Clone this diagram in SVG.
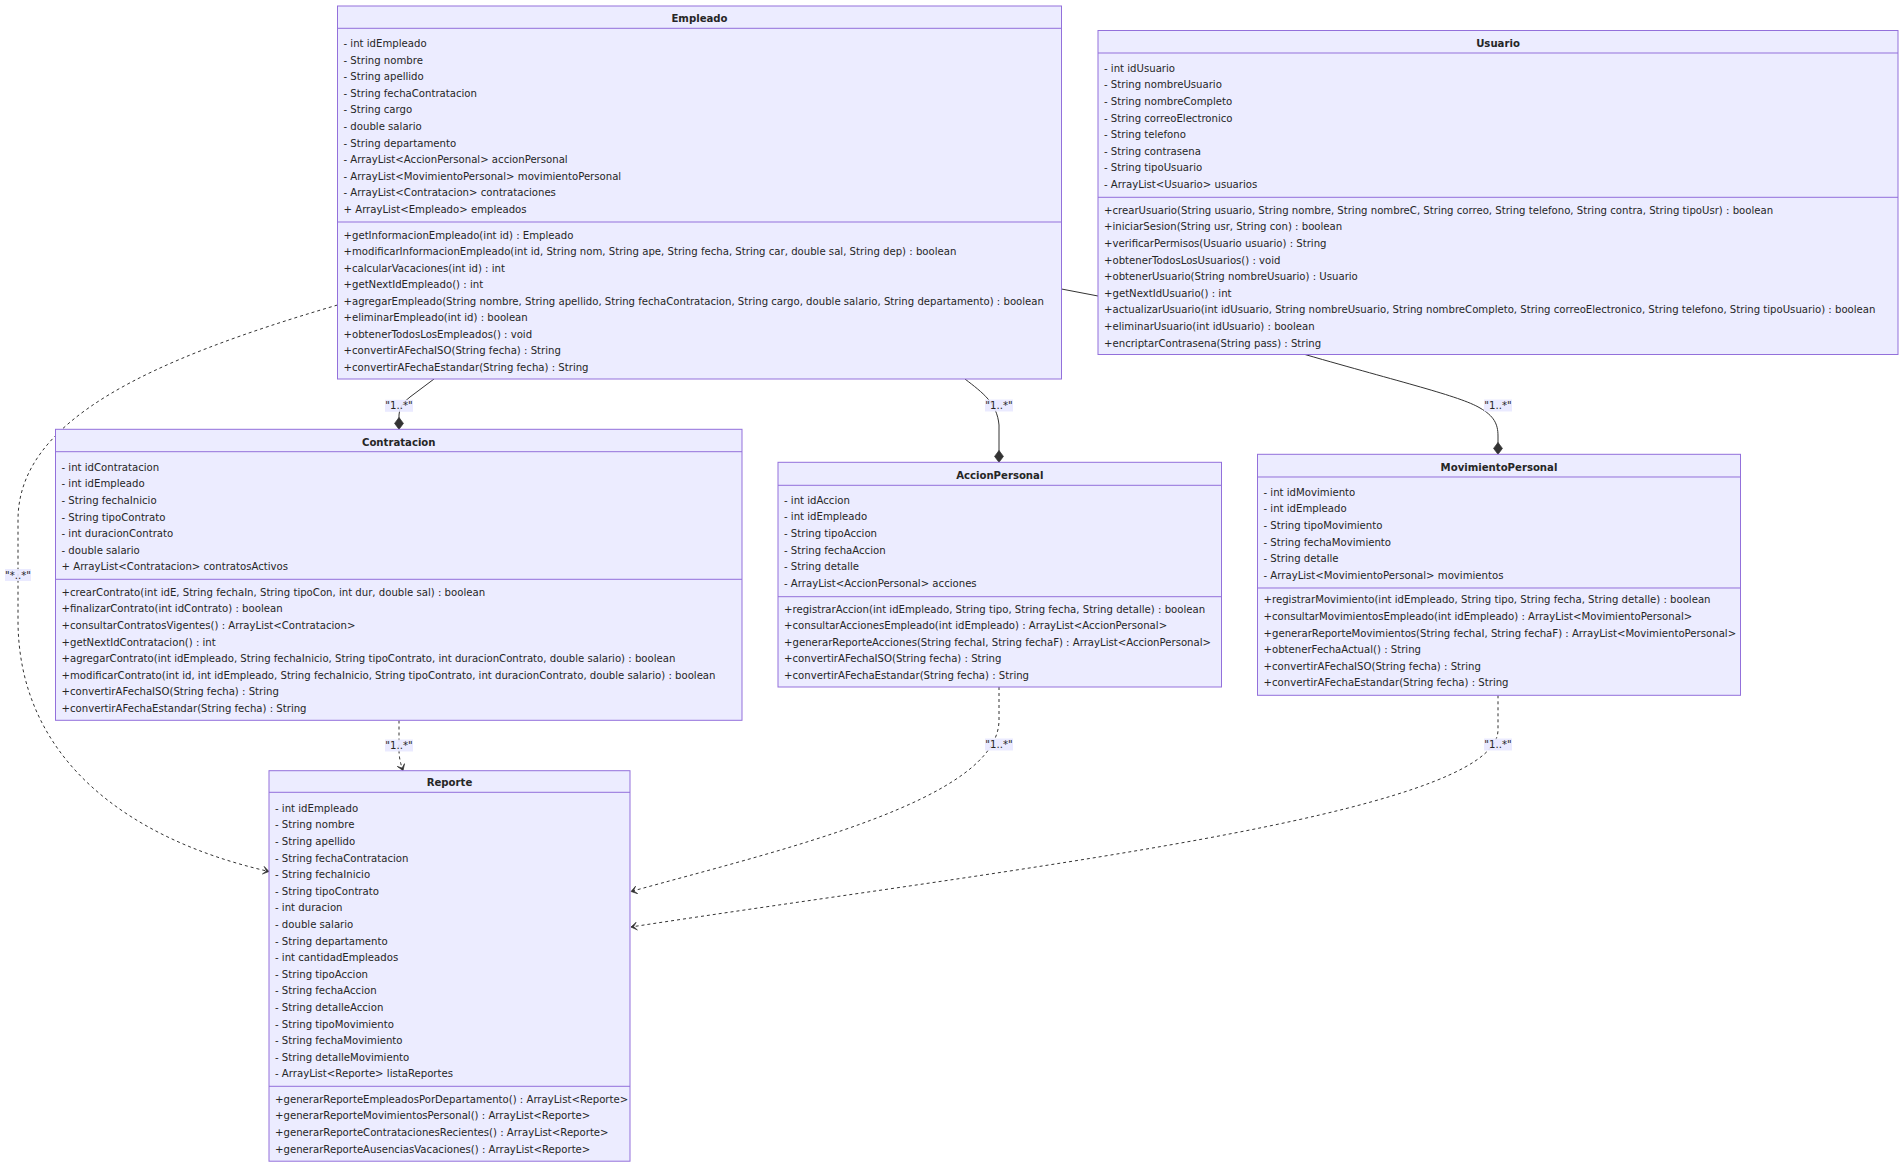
<svg xmlns="http://www.w3.org/2000/svg" width="1904" height="1167" viewBox="0 0 1904 1167">
  <style>
    .box { fill: #ECECFF; stroke: #9370DB; stroke-width: 1; }
    .div { stroke: #9370DB; stroke-width: 1; }
    text { font-family: "DejaVu Sans", Verdana, sans-serif; font-size: 10.15px; fill: #262626; dominant-baseline: central; }
    .title { font-weight: bold; text-anchor: middle; }
    .edge { fill: none; stroke: #333; stroke-width: 1; }
    .dotted { stroke-dasharray: 3 3; }
    .lblbg { fill: #E8E8FF; opacity: 0.9; }
    .lbl { text-anchor: middle; }
  </style>
  <defs>
    <marker id="composition" viewBox="0 0 18 14" refX="17" refY="7" markerWidth="13.3" markerHeight="10.4" markerUnits="userSpaceOnUse" orient="auto">
      <path d="M17,7 L9,13 L1,7 L9,1 Z" fill="#333" stroke="#333" stroke-width="1"/>
    </marker>
    <marker id="dependency" viewBox="0 0 20 14" refX="18" refY="7" markerWidth="13" markerHeight="9.1" markerUnits="userSpaceOnUse" orient="auto">
      <path d="M18,7 L9,13 L14,7 L9,1 Z" fill="#333" stroke="#333" stroke-width="1"/>
    </marker>
  </defs>

  <rect width="1904" height="1167" fill="#ffffff"/>

  <!-- connectors -->
  <g id="connectors">
    <path class="edge" d="M434,379 L410,397 Q399,405 399,415 L399,429.3" marker-end="url(#composition)"/>
    <path class="edge" d="M965,379 C983,393 997,403 999,425 L999,462.3" marker-end="url(#composition)"/>
    <path class="edge" d="M1305,354.5 C1400,382 1460,396 1480,408 C1494,416 1498,424 1498,436 L1498,454.3" marker-end="url(#composition)"/>
    <path class="edge" d="M1061.5,289 L1098,296"/>
    <path class="edge dotted" d="M399,720.5 L399,750 Q399,760 403,770.5" marker-end="url(#dependency)"/>
    <path class="edge dotted" d="M337.5,305 C150,360 18,420 18,520 L18,620 C18,760 130,840 269,871.5" marker-end="url(#dependency)"/>
    <path class="edge dotted" d="M999,687 L999,720 C999,800 780,850 631,891.5" marker-end="url(#dependency)"/>
    <path class="edge dotted" d="M1498,695.3 L1498,730 C1498,815 1000,870 631,927" marker-end="url(#dependency)"/>

    <g id="edge-labels">
      <rect class="lblbg" x="385" y="399.8" width="28" height="12"/>
      <text class="lbl" x="399" y="405.8">"1..*"</text>
      <rect class="lblbg" x="985" y="399.5" width="28" height="12"/>
      <text class="lbl" x="999" y="405.5">"1..*"</text>
      <rect class="lblbg" x="1484" y="399.5" width="28" height="12"/>
      <text class="lbl" x="1498" y="405.5">"1..*"</text>
      <rect class="lblbg" x="5" y="569" width="26" height="12"/>
      <text class="lbl" x="18" y="575">"*..*"</text>
      <rect class="lblbg" x="385" y="739.5" width="28" height="12"/>
      <text class="lbl" x="399" y="745.5">"1..*"</text>
      <rect class="lblbg" x="985" y="738.5" width="28" height="12"/>
      <text class="lbl" x="999" y="744.5">"1..*"</text>
      <rect class="lblbg" x="1484" y="738.5" width="28" height="12"/>
      <text class="lbl" x="1498" y="744.5">"1..*"</text>
    </g>
  </g>

  <!-- Empleado -->
  <g id="Empleado" transform="translate(337.5,6)">
    <rect class="box" x="0" y="0" width="724" height="373"/>
    <line class="div" x1="0" y1="22.3" x2="724" y2="22.3"/>
    <line class="div" x1="0" y1="216" x2="724" y2="216"/>
    <text class="title" x="362" y="12.3">Empleado</text>
    <text x="6" y="37.5">- int idEmpleado</text>
    <text x="6" y="54.1">- String nombre</text>
    <text x="6" y="70.7">- String apellido</text>
    <text x="6" y="87.3">- String fechaContratacion</text>
    <text x="6" y="103.9">- String cargo</text>
    <text x="6" y="120.5">- double salario</text>
    <text x="6" y="137.1">- String departamento</text>
    <text x="6" y="153.7">- ArrayList&lt;AccionPersonal&gt; accionPersonal</text>
    <text x="6" y="170.3">- ArrayList&lt;MovimientoPersonal&gt; movimientoPersonal</text>
    <text x="6" y="186.9">- ArrayList&lt;Contratacion&gt; contrataciones</text>
    <text x="6" y="203.5">+ ArrayList&lt;Empleado&gt; empleados</text>
    <text x="6" y="229.3">+getInformacionEmpleado(int id) : Empleado</text>
    <text x="6" y="245.8">+modificarInformacionEmpleado(int id, String nom, String ape, String fecha, String car, double sal, String dep) : boolean</text>
    <text x="6" y="262.3">+calcularVacaciones(int id) : int</text>
    <text x="6" y="278.8">+getNextIdEmpleado() : int</text>
    <text x="6" y="295.3">+agregarEmpleado(String nombre, String apellido, String fechaContratacion, String cargo, double salario, String departamento) : boolean</text>
    <text x="6" y="311.8">+eliminarEmpleado(int id) : boolean</text>
    <text x="6" y="328.3">+obtenerTodosLosEmpleados() : void</text>
    <text x="6" y="344.8">+convertirAFechaISO(String fecha) : String</text>
    <text x="6" y="361.3">+convertirAFechaEstandar(String fecha) : String</text>
  </g>

  <!-- Usuario -->
  <g id="Usuario" transform="translate(1098,30.5)">
    <rect class="box" x="0" y="0" width="800" height="324"/>
    <line class="div" x1="0" y1="22.5" x2="800" y2="22.5"/>
    <line class="div" x1="0" y1="166.8" x2="800" y2="166.8"/>
    <text class="title" x="400" y="12.8">Usuario</text>
    <text x="6" y="37.8">- int idUsuario</text>
    <text x="6" y="54.4">- String nombreUsuario</text>
    <text x="6" y="71">- String nombreCompleto</text>
    <text x="6" y="87.6">- String correoElectronico</text>
    <text x="6" y="104.2">- String telefono</text>
    <text x="6" y="120.8">- String contrasena</text>
    <text x="6" y="137.4">- String tipoUsuario</text>
    <text x="6" y="154">- ArrayList&lt;Usuario&gt; usuarios</text>
    <text x="6" y="179.8">+crearUsuario(String usuario, String nombre, String nombreC, String correo, String telefono, String contra, String tipoUsr) : boolean</text>
    <text x="6" y="196.4">+iniciarSesion(String usr, String con) : boolean</text>
    <text x="6" y="213">+verificarPermisos(Usuario usuario) : String</text>
    <text x="6" y="229.6">+obtenerTodosLosUsuarios() : void</text>
    <text x="6" y="246.2">+obtenerUsuario(String nombreUsuario) : Usuario</text>
    <text x="6" y="262.8">+getNextIdUsuario() : int</text>
    <text x="6" y="279.4">+actualizarUsuario(int idUsuario, String nombreUsuario, String nombreCompleto, String correoElectronico, String telefono, String tipoUsuario) : boolean</text>
    <text x="6" y="296">+eliminarUsuario(int idUsuario) : boolean</text>
    <text x="6" y="312.6">+encriptarContrasena(String pass) : String</text>
  </g>

  <!-- Contratacion -->
  <g id="Contratacion" transform="translate(55.5,429.3)">
    <rect class="box" x="0" y="0" width="686.5" height="291"/>
    <line class="div" x1="0" y1="22.4" x2="686.5" y2="22.4"/>
    <line class="div" x1="0" y1="150" x2="686.5" y2="150"/>
    <text class="title" x="343.25" y="13">Contratacion</text>
    <text x="6" y="38">- int idContratacion</text>
    <text x="6" y="54.6">- int idEmpleado</text>
    <text x="6" y="71.2">- String fechaInicio</text>
    <text x="6" y="87.8">- String tipoContrato</text>
    <text x="6" y="104.4">- int duracionContrato</text>
    <text x="6" y="121">- double salario</text>
    <text x="6" y="137.6">+ ArrayList&lt;Contratacion&gt; contratosActivos</text>
    <text x="6" y="163">+crearContrato(int idE, String fechaIn, String tipoCon, int dur, double sal) : boolean</text>
    <text x="6" y="179.6">+finalizarContrato(int idContrato) : boolean</text>
    <text x="6" y="196.2">+consultarContratosVigentes() : ArrayList&lt;Contratacion&gt;</text>
    <text x="6" y="212.8">+getNextIdContratacion() : int</text>
    <text x="6" y="229.4">+agregarContrato(int idEmpleado, String fechaInicio, String tipoContrato, int duracionContrato, double salario) : boolean</text>
    <text x="6" y="246">+modificarContrato(int id, int idEmpleado, String fechaInicio, String tipoContrato, int duracionContrato, double salario) : boolean</text>
    <text x="6" y="262.6">+convertirAFechaISO(String fecha) : String</text>
    <text x="6" y="279.2">+convertirAFechaEstandar(String fecha) : String</text>
  </g>

  <!-- AccionPersonal -->
  <g id="AccionPersonal" transform="translate(778,462.3)">
    <rect class="box" x="0" y="0" width="443.5" height="224.7"/>
    <line class="div" x1="0" y1="23" x2="443.5" y2="23"/>
    <line class="div" x1="0" y1="134.4" x2="443.5" y2="134.4"/>
    <text class="title" x="221.75" y="13.4">AccionPersonal</text>
    <text x="6" y="38">- int idAccion</text>
    <text x="6" y="54.6">- int idEmpleado</text>
    <text x="6" y="71.2">- String tipoAccion</text>
    <text x="6" y="87.8">- String fechaAccion</text>
    <text x="6" y="104.4">- String detalle</text>
    <text x="6" y="121">- ArrayList&lt;AccionPersonal&gt; acciones</text>
    <text x="6" y="147">+registrarAccion(int idEmpleado, String tipo, String fecha, String detalle) : boolean</text>
    <text x="6" y="163.5">+consultarAccionesEmpleado(int idEmpleado) : ArrayList&lt;AccionPersonal&gt;</text>
    <text x="6" y="180">+generarReporteAcciones(String fechaI, String fechaF) : ArrayList&lt;AccionPersonal&gt;</text>
    <text x="6" y="196.5">+convertirAFechaISO(String fecha) : String</text>
    <text x="6" y="213">+convertirAFechaEstandar(String fecha) : String</text>
  </g>

  <!-- MovimientoPersonal -->
  <g id="MovimientoPersonal" transform="translate(1257.5,454.3)">
    <rect class="box" x="0" y="0" width="483" height="241"/>
    <line class="div" x1="0" y1="22.7" x2="483" y2="22.7"/>
    <line class="div" x1="0" y1="133.7" x2="483" y2="133.7"/>
    <text class="title" x="241.5" y="13">MovimientoPersonal</text>
    <text x="6" y="38">- int idMovimiento</text>
    <text x="6" y="54.6">- int idEmpleado</text>
    <text x="6" y="71.2">- String tipoMovimiento</text>
    <text x="6" y="87.8">- String fechaMovimiento</text>
    <text x="6" y="104.4">- String detalle</text>
    <text x="6" y="121">- ArrayList&lt;MovimientoPersonal&gt; movimientos</text>
    <text x="6" y="145.7">+registrarMovimiento(int idEmpleado, String tipo, String fecha, String detalle) : boolean</text>
    <text x="6" y="162.3">+consultarMovimientosEmpleado(int idEmpleado) : ArrayList&lt;MovimientoPersonal&gt;</text>
    <text x="6" y="178.9">+generarReporteMovimientos(String fechaI, String fechaF) : ArrayList&lt;MovimientoPersonal&gt;</text>
    <text x="6" y="195.5">+obtenerFechaActual() : String</text>
    <text x="6" y="212.1">+convertirAFechaISO(String fecha) : String</text>
    <text x="6" y="228.7">+convertirAFechaEstandar(String fecha) : String</text>
  </g>

  <!-- Reporte -->
  <g id="Reporte" transform="translate(269,770.7)">
    <rect class="box" x="0" y="0" width="361" height="390.5"/>
    <line class="div" x1="0" y1="21.6" x2="361" y2="21.6"/>
    <line class="div" x1="0" y1="315.6" x2="361" y2="315.6"/>
    <text class="title" x="180.5" y="12.3">Reporte</text>
    <text x="6" y="37.6">- int idEmpleado</text>
    <text x="6" y="54.2">- String nombre</text>
    <text x="6" y="70.8">- String apellido</text>
    <text x="6" y="87.4">- String fechaContratacion</text>
    <text x="6" y="104">- String fechaInicio</text>
    <text x="6" y="120.6">- String tipoContrato</text>
    <text x="6" y="137.2">- int duracion</text>
    <text x="6" y="153.8">- double salario</text>
    <text x="6" y="170.4">- String departamento</text>
    <text x="6" y="187">- int cantidadEmpleados</text>
    <text x="6" y="203.6">- String tipoAccion</text>
    <text x="6" y="220.2">- String fechaAccion</text>
    <text x="6" y="236.8">- String detalleAccion</text>
    <text x="6" y="253.4">- String tipoMovimiento</text>
    <text x="6" y="270">- String fechaMovimiento</text>
    <text x="6" y="286.6">- String detalleMovimiento</text>
    <text x="6" y="303.2">- ArrayList&lt;Reporte&gt; listaReportes</text>
    <text x="6" y="328.6">+generarReporteEmpleadosPorDepartamento() : ArrayList&lt;Reporte&gt;</text>
    <text x="6" y="345.2">+generarReporteMovimientosPersonal() : ArrayList&lt;Reporte&gt;</text>
    <text x="6" y="361.8">+generarReporteContratacionesRecientes() : ArrayList&lt;Reporte&gt;</text>
    <text x="6" y="378.4">+generarReporteAusenciasVacaciones() : ArrayList&lt;Reporte&gt;</text>
  </g>
</svg>
